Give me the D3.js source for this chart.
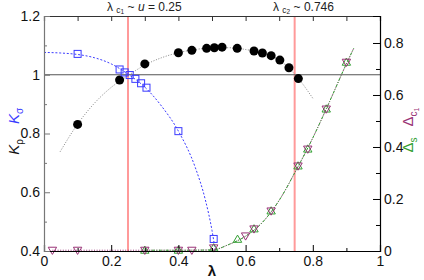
<!DOCTYPE html>
<html><head><meta charset="utf-8">
<script src="https://cdn.jsdelivr.net/npm/d3@7"></script>
<style>
body{margin:0;background:#fff}
text{font-family:"Liberation Sans",Arial,Helvetica,sans-serif}
</style>
</head><body>
<svg id="c" width="424" height="280"></svg>
<script>
// ---- data ----
const kRhoX = [0.1, 0.225, 0.3, 0.4, 0.44, 0.484, 0.507, 0.53, 0.575, 0.625, 0.65, 0.676, 0.702, 0.729, 0.757];
const kRhoY = [0.831, 0.982, 1.037, 1.075, 1.083, 1.090, 1.092, 1.094, 1.090, 1.081, 1.074, 1.065, 1.050, 1.024, 0.987];
const kRhoFitX = [0.048, 0.1, 0.15, 0.2, 0.25, 0.3, 0.35, 0.4, 0.45, 0.5, 0.55, 0.6, 0.65, 0.7, 0.75, 0.8];
const kRhoFitY = [0.738, 0.832, 0.903, 0.957, 0.997, 1.033, 1.058, 1.075, 1.086, 1.091, 1.092, 1.086, 1.073, 1.050, 0.997, 0.92];

const kSigX = [0.1, 0.225, 0.24, 0.255, 0.272, 0.289, 0.305, 0.4, 0.505];
const kSigY = [1.071, 1.018, 1.008, 0.999, 0.986, 0.971, 0.956, 0.808, 0.441];
const kSigFitX = [0, 0.05, 0.1, 0.15, 0.2, 0.25, 0.3, 0.35, 0.4, 0.45, 0.48, 0.5, 0.51];
const kSigFitY = [1.076, 1.074, 1.069, 1.058, 1.037, 1.002, 0.958, 0.893, 0.808, 0.685, 0.575, 0.47, 0.4];

const dC1X = [0.025, 0.1, 0.3, 0.4, 0.44, 0.505, 0.6, 0.625, 0.676, 0.756, 0.785, 0.84, 0.9];
const dC1Y = [0.003, 0.003, 0.003, 0.003, 0.003, 0.012, 0.058, 0.085, 0.154, 0.327, 0.392, 0.546, 0.726];
const dSX = [0.3, 0.4, 0.505, 0.576, 0.625, 0.676, 0.756, 0.785, 0.84, 0.9];
const dSY = [0.003, 0.003, 0.012, 0.045, 0.085, 0.154, 0.327, 0.392, 0.546, 0.726];
const dC1FitX = [0.025, 0.1, 0.2, 0.3, 0.4, 0.5, 0.55, 0.6, 0.65, 0.7, 0.75, 0.8, 0.85, 0.9, 0.922];
const dC1FitY = [0.003, 0.003, 0.003, 0.003, 0.003, 0.004, 0.025, 0.057, 0.11, 0.195, 0.31, 0.435, 0.575, 0.72, 0.78];
const dSFitX = [0.3, 0.4, 0.5, 0.55, 0.6, 0.65, 0.7, 0.75, 0.8, 0.85, 0.9, 0.922];
const dSFitY = [0.003, 0.003, 0.004, 0.025, 0.057, 0.11, 0.195, 0.31, 0.435, 0.575, 0.72, 0.78];

const critX = [0.25, 0.746];
const xTicks = [0, 0.2, 0.4, 0.6, 0.8, 1];
const xMinor = [0.1, 0.3, 0.5, 0.7, 0.9];
const yLTicks = [0.4, 0.6, 0.8, 1.0, 1.2];
const yLMinor = [0.5, 0.7, 0.9, 1.1];
const yRTicks = [0, 0.2, 0.4, 0.6, 0.8];
const yRMinor = [0.1, 0.3, 0.5, 0.7];

// ---- layout ----
const L = 44, R = 380, T = 16, B = 251;
const svg = d3.select("#c");
svg.append("rect").attr("width", 424).attr("height", 280).attr("fill", "#fff");
const x = d3.scaleLinear().domain([0, 1]).range([L, R]);
const yL = d3.scaleLinear().domain([0.4, 1.2]).range([B, T]);
const yR = d3.scaleLinear().domain([0, 0.9038]).range([B, T]);

const purple = "#993377", green = "#33a033", blue = "#3a3aff";

// red critical lines
svg.selectAll(".crit").data(critX).enter().append("line")
  .attr("x1", d => x(d)).attr("x2", d => x(d)).attr("y1", T).attr("y2", B)
  .attr("stroke", "#ff9a9a").attr("stroke-width", 2);

// horizontal line at 1
svg.append("line").attr("x1", L).attr("x2", R).attr("y1", yL(1)).attr("y2", yL(1))
  .attr("stroke", "#555").attr("stroke-width", 1.2);

// fit lines
const lineL = d3.line().x(d => x(d[0])).y(d => yL(d[1])).curve(d3.curveMonotoneX);
const lineR = d3.line().x(d => x(d[0])).y(d => yR(d[1])).curve(d3.curveMonotoneX);
svg.append("path").attr("d", lineL(d3.zip(kRhoFitX, kRhoFitY))).attr("fill", "none")
  .attr("stroke", "#777").attr("stroke-width", 0.9).attr("stroke-dasharray", "1,1.6");
svg.append("path").attr("d", lineL(d3.zip(kSigFitX, kSigFitY))).attr("fill", "none")
  .attr("stroke", blue).attr("stroke-width", 1).attr("stroke-dasharray", "2,1.8");
svg.append("path").attr("d", lineR(d3.zip(dC1FitX, dC1FitY))).attr("fill", "none")
  .attr("stroke", purple).attr("stroke-width", 1).attr("stroke-dasharray", "1,1.6");
svg.append("path").attr("d", lineR(d3.zip(dSFitX, dSFitY))).attr("fill", "none")
  .attr("stroke", green).attr("stroke-width", 1).attr("stroke-dasharray", "3,1.5,1,1.5");

// markers
svg.selectAll(".rho").data(d3.zip(kRhoX, kRhoY)).enter().append("circle")
  .attr("cx", d => x(d[0])).attr("cy", d => yL(d[1])).attr("r", 4.5).attr("fill", "#000");
svg.selectAll(".sig").data(d3.zip(kSigX, kSigY)).enter().append("rect")
  .attr("x", d => x(d[0]) - 3.5).attr("y", d => yL(d[1]) - 3.5).attr("width", 7).attr("height", 7)
  .attr("fill", "none").attr("stroke", blue).attr("stroke-width", 1);
svg.selectAll(".ds").data(d3.zip(dSX, dSY)).enter().append("path")
  .attr("transform", d => `translate(${x(d[0])},${yR(d[1])})`)
  .attr("d", "M0,-4.2L4.2,3L-4.2,3Z").attr("fill", "none").attr("stroke", green).attr("stroke-width", 1);
svg.selectAll(".dc").data(d3.zip(dC1X, dC1Y)).enter().append("path")
  .attr("transform", d => `translate(${x(d[0])},${yR(d[1])})`)
  .attr("d", "M0,4.2L4.2,-3L-4.2,-3Z").attr("fill", "none").attr("stroke", purple).attr("stroke-width", 1);

// axes
function style(g, col) {
  g.select(".domain").attr("stroke", col).attr("stroke-width", 1.2);
  g.selectAll(".tick line").attr("stroke", col).attr("stroke-width", 1);
  g.selectAll(".tick text").attr("font-size", 14).attr("fill", "#111")
    .attr("font-family", '"Liberation Sans",Arial,sans-serif');
}
const gB = svg.append("g").attr("transform", `translate(0,${B})`)
  .call(d3.axisBottom(x).tickValues(xTicks).tickSize(-6).tickPadding(5).tickFormat(d3.format("~g")));
style(gB, "#000");
svg.append("g").attr("transform", `translate(0,${B})`)
  .call(d3.axisBottom(x).tickValues(xMinor).tickSize(-3).tickFormat(""))
  .call(g => { g.select(".domain").remove(); g.selectAll("line").attr("stroke", "#000"); });
const gT = svg.append("g").attr("transform", `translate(0,${T})`)
  .call(d3.axisTop(x).tickValues(xTicks.concat(xMinor)).tickSize(-5).tickFormat(""));
style(gT, "#333");
const gL = svg.append("g").attr("transform", `translate(${L},0)`)
  .call(d3.axisLeft(yL).tickValues(yLTicks).tickSize(-6).tickPadding(4).tickFormat(d3.format("~g")));
style(gL, "#777");
svg.append("g").attr("transform", `translate(${L},0)`)
  .call(d3.axisLeft(yL).tickValues(yLMinor).tickSize(-3).tickFormat(""))
  .call(g => { g.select(".domain").remove(); g.selectAll("line").attr("stroke", "#777"); });
const gR = svg.append("g").attr("transform", `translate(${R},0)`)
  .call(d3.axisRight(yR).tickValues(yRTicks).tickSize(-7).tickPadding(4).tickFormat(d3.format("~g")));
style(gR, "#000");
svg.append("g").attr("transform", `translate(${R},0)`)
  .call(d3.axisRight(yR).tickValues(yRMinor).tickSize(-4).tickFormat(""))
  .call(g => { g.select(".domain").remove(); g.selectAll("line").attr("stroke", "#000"); });

// axis titles
svg.append("text").attr("x", 212).attr("y", 276).attr("text-anchor", "middle")
  .attr("font-size", 15).attr("font-weight", "bold").attr("fill", "#111").text("λ");

function subLabel(tx, ty, main, sub, col, italic, sub2) {
  const t = svg.append("text").attr("transform", `translate(${tx},${ty}) rotate(-90)`)
    .attr("text-anchor", "middle").attr("font-size", 15).attr("fill", col);
  t.append("tspan").attr("font-style", italic ? "italic" : "normal").text(main);
  t.append("tspan").attr("font-size", 10).attr("dy", 4).text(sub);
  if (sub2) t.append("tspan").attr("font-size", 7).attr("dy", 2).text(sub2);
}
subLabel(19, 147, "K", "ρ", "#111", true);
subLabel(19, 116, "K", "σ", blue, true);
subLabel(413, 145, "Δ", "s", green, false);
subLabel(413, 117, "Δ", "c", purple, false, "1");

// top annotations
const t1 = svg.append("text").attr("x", 107).attr("y", 11).attr("font-size", 12).attr("fill", "#222");
t1.append("tspan").text("λ ");
t1.append("tspan").attr("font-size", 8.5).attr("dy", 1.5).text("c");
t1.append("tspan").attr("font-size", 6.5).attr("dy", 1.5).text("1");
t1.append("tspan").attr("dy", -3).text(" ~ ");
t1.append("tspan").attr("font-style", "italic").text("u");
t1.append("tspan").text(" = 0.25");

const t2 = svg.append("text").attr("x", 273).attr("y", 11).attr("font-size", 12).attr("fill", "#222");
t2.append("tspan").text("λ ");
t2.append("tspan").attr("font-size", 8.5).attr("dy", 1.5).text("c");
t2.append("tspan").attr("font-size", 6.5).attr("dy", 1.5).text("2");
t2.append("tspan").attr("dy", -3).text(" ~ 0.746");
</script>
</body></html>
